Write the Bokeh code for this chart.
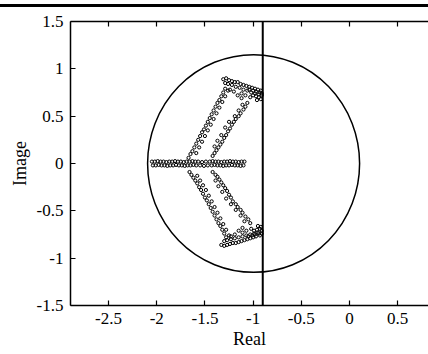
from bokeh.plotting import figure
from bokeh.models import Range1d, LinearAxis, FixedTicker, Span, Div
from bokeh.layouts import column
from bokeh.embed import file_html
from bokeh.resources import INLINE

# ---- data ----
x_ticks = [-2.5, -2, -1.5, -1, -0.5, 0, 0.5]
x_tick_labels = ["-2.5", "-2", "-1.5", "-1", "-0.5", "0", "0.5"]
y_ticks = [-1.5, -1, -0.5, 0, 0.5, 1, 1.5]
y_tick_labels = ["-1.5", "-1", "-0.5", "0", "0.5", "1", "1.5"]

vline_x = -0.9
circle_cx = -0.995
circle_cy = 0.0
circle_w = 2.20
circle_h = 2.30

# roots on the real axis
axis_x = [-2.05, -2.02, -1.99, -1.96, -1.93, -1.90, -1.87, -1.84, -1.81, -1.78,
          -1.75, -1.72, -1.69, -1.66, -1.63, -1.60, -1.57, -1.53, -1.49, -1.45,
          -1.42, -1.39, -1.36, -1.33, -1.30, -1.27, -1.24, -1.21, -1.18, -1.15,
          -1.12, -1.09,
          -2.04, -2.01, -1.98, -1.95, -1.92, -1.89, -1.86, -1.83, -1.80, -1.77,
          -1.74, -1.71, -1.68, -1.65, -1.62, -1.59, -1.55, -1.51, -1.47, -1.43,
          -1.40, -1.37, -1.34, -1.31, -1.28, -1.25, -1.22, -1.19, -1.16, -1.13,
          -1.10]
axis_y = [0.02, 0.02, 0.025, 0.02, 0.02, 0.015, 0.02, 0.02, 0.025, 0.02,
          0.02, 0.015, 0.02, 0.02, 0.025, 0.02, 0.02, 0.015, 0.02, 0.02,
          0.025, 0.02, 0.02, 0.015, 0.02, 0.02, 0.025, 0.02, 0.02, 0.015,
          0.02, 0.02,
          -0.02, -0.02, -0.015, -0.02, -0.02, -0.025, -0.02, -0.02, -0.015, -0.02,
          -0.02, -0.025, -0.02, -0.02, -0.015, -0.02, -0.02, -0.025, -0.02, -0.02,
          -0.015, -0.02, -0.02, -0.025, -0.02, -0.02, -0.015, -0.02, -0.02, -0.025,
          -0.02]

# upper branch of complex roots
up_x = [-1.31, -1.28, -1.25, -1.22, -1.19, -1.16, -1.13, -1.10, -1.07, -1.04,
        -1.01, -0.98, -0.95, -0.92,
        -1.29, -1.26, -1.22, -1.18, -1.14, -1.10, -1.06, -1.02, -0.98, -0.94, -0.91,
        -1.04, -1.00, -0.97, -0.93, -0.91, -0.94, -0.97, -1.00, -0.92, -0.96,
        -1.03, -1.08, -1.12, -1.20, -1.16, -1.12, -1.24,
        -1.29, -1.31, -1.33, -1.35, -1.37, -1.39, -1.41, -1.43, -1.45, -1.47,
        -1.49, -1.51, -1.53, -1.55, -1.57, -1.59, -1.61, -1.63, -1.65, -1.67,
        -1.26, -1.29, -1.32, -1.35, -1.38, -1.41, -1.44, -1.47, -1.50, -1.53, -1.56, -1.59,
        -1.06, -1.08, -1.10, -1.13, -1.15, -1.18, -1.20, -1.22, -1.24, -1.26,
        -1.28, -1.30, -1.32, -1.34, -1.36, -1.38, -1.40, -1.42,
        -1.11, -1.15, -1.19, -1.25, -1.29, -1.33, -1.37, -1.40]
up_y = [0.89, 0.90, 0.88, 0.87, 0.86, 0.86, 0.84, 0.83, 0.82, 0.81,
        0.80, 0.79, 0.78, 0.77,
        0.85, 0.84, 0.83, 0.81, 0.80, 0.78, 0.77, 0.75, 0.74, 0.73, 0.74,
        0.78, 0.77, 0.76, 0.75, 0.72, 0.70, 0.71, 0.72, 0.68, 0.67,
        0.70, 0.72, 0.74, 0.76, 0.72, 0.69, 0.78,
        0.79, 0.75, 0.71, 0.67, 0.64, 0.60, 0.56, 0.52, 0.48, 0.44,
        0.40, 0.36, 0.33, 0.29, 0.25, 0.21, 0.17, 0.13, 0.10, 0.06,
        0.77, 0.71, 0.65, 0.59, 0.53, 0.47, 0.41, 0.35, 0.29, 0.23, 0.17, 0.11,
        0.64, 0.60, 0.57, 0.53, 0.50, 0.47, 0.44, 0.41, 0.37, 0.34,
        0.30, 0.27, 0.23, 0.20, 0.17, 0.14, 0.11, 0.08,
        0.62, 0.56, 0.50, 0.44, 0.38, 0.30, 0.24, 0.18]

# lower branch of complex roots
lo_x = [-1.33, -1.30, -1.27, -1.24, -1.21, -1.18, -1.15, -1.12, -1.09, -1.06,
        -1.03, -1.00, -0.97, -0.93,
        -1.30, -1.27, -1.23, -1.19, -1.15, -1.11, -1.07, -1.03, -0.99, -0.95, -0.91,
        -1.05, -1.01, -0.98, -0.94, -0.91, -0.93, -0.96, -0.99, -0.92, -0.95,
        -1.02, -1.07, -1.11, -1.19, -1.15, -1.11, -1.23,
        -1.28, -1.30, -1.32, -1.34, -1.36, -1.38, -1.40, -1.42, -1.44, -1.46,
        -1.48, -1.50, -1.52, -1.54, -1.56, -1.58, -1.60, -1.62, -1.64, -1.66,
        -1.25, -1.28, -1.31, -1.34, -1.37, -1.40, -1.43, -1.46, -1.49, -1.52, -1.55, -1.58,
        -1.03, -1.05, -1.08, -1.11, -1.13, -1.16, -1.18, -1.21, -1.23, -1.25,
        -1.27, -1.29, -1.31, -1.33, -1.35, -1.37, -1.39, -1.42,
        -1.09, -1.13, -1.18, -1.23, -1.28, -1.32, -1.36, -1.39]
lo_y = [-0.86, -0.87, -0.86, -0.85, -0.84, -0.84, -0.83, -0.82, -0.81, -0.80,
        -0.79, -0.78, -0.77, -0.76,
        -0.82, -0.81, -0.80, -0.79, -0.78, -0.77, -0.76, -0.75, -0.74, -0.73, -0.74,
        -0.77, -0.76, -0.75, -0.74, -0.71, -0.69, -0.70, -0.71, -0.67, -0.66,
        -0.69, -0.71, -0.73, -0.75, -0.71, -0.68, -0.77,
        -0.78, -0.74, -0.70, -0.66, -0.63, -0.59, -0.55, -0.51, -0.47, -0.43,
        -0.39, -0.36, -0.32, -0.28, -0.25, -0.21, -0.18, -0.15, -0.12, -0.09,
        -0.76, -0.70, -0.64, -0.58, -0.52, -0.46, -0.40, -0.34, -0.28, -0.23, -0.18, -0.13,
        -0.63, -0.59, -0.56, -0.52, -0.49, -0.46, -0.43, -0.40, -0.36, -0.33,
        -0.29, -0.26, -0.23, -0.20, -0.17, -0.14, -0.12, -0.09,
        -0.61, -0.55, -0.49, -0.43, -0.37, -0.30, -0.24, -0.18]

x_label = "Real"
y_label = "Image"

FONT = "Liberation Serif"

p = figure(frame_width=358, frame_height=284,
           x_range=Range1d(-2.895, 0.82), y_range=Range1d(-1.5, 1.5),
           output_backend="svg", toolbar_location=None,
           min_border_left=70, min_border_top=11, min_border_right=0,
           min_border_bottom=40, background_fill_color="white",
           border_fill_color="white")
p.outline_line_color = None
p.grid.visible = False

for ax, ticks, labels in ((p.xaxis[0], x_ticks, x_tick_labels),
                          (p.yaxis[0], y_ticks, y_tick_labels)):
    ax.ticker = FixedTicker(ticks=ticks)
    ax.major_label_overrides = {t: l for t, l in zip(ticks, labels)}
    ax.major_tick_in = 5
    ax.major_tick_out = 0
    ax.minor_tick_line_color = None
    ax.axis_line_width = 1.5
    ax.major_tick_line_width = 1.2
    ax.major_label_text_font = FONT
    ax.major_label_text_font_size = "17px"
    ax.major_label_text_color = "black"
    ax.axis_label_text_font = FONT
    ax.axis_label_text_font_size = "18px"
    ax.axis_label_text_font_style = "normal"
    ax.axis_label_text_color = "black"

p.xaxis.axis_label = x_label
p.yaxis.axis_label = y_label
p.xaxis.major_label_standoff = 7
p.xaxis.axis_label_standoff = 2
p.yaxis.major_label_standoff = 7
p.yaxis.axis_label_standoff = 4

top = LinearAxis(ticker=FixedTicker(ticks=x_ticks), major_tick_in=5, major_tick_out=0,
                 minor_tick_line_color=None, axis_line_width=1.5, major_tick_line_width=1.2,
                 major_label_overrides={t: "" for t in x_ticks}, major_label_standoff=0)
p.add_layout(top, "above")

p.ellipse(x=[circle_cx], y=[circle_cy], width=[circle_w], height=[circle_h],
          fill_color=None, line_color="black", line_width=1.5)
p.add_layout(Span(location=vline_x, dimension="height", line_color="black", line_width=2))

for xs, ys in ((axis_x, axis_y), (up_x, up_y), (lo_x, lo_y)):
    p.scatter(xs, ys, marker="circle", size=3.2, fill_color=None,
              line_color="black", line_width=1.0)

rule = Div(text='<div style="position:fixed;top:4px;left:0px;width:428px;height:3px;background:#000"></div>',
           width=420, height=0)

layout = column(rule, p, spacing=0)
open("out.html", "w").write(file_html(layout, INLINE))
